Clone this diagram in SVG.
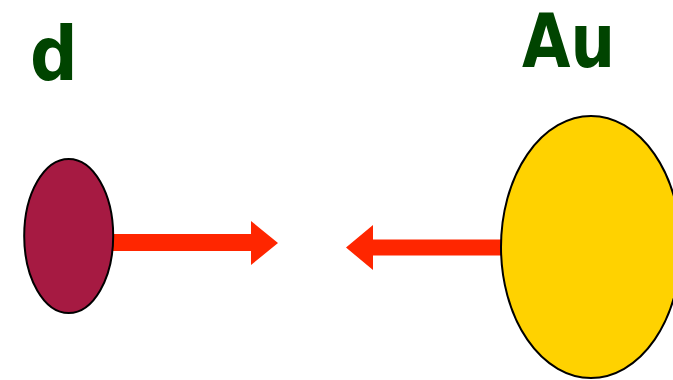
<svg xmlns="http://www.w3.org/2000/svg" width="673" height="380" viewBox="0 0 673 380">
<style>
.lbl{font-family:"DejaVu Sans Condensed","DejaVu Sans",sans-serif;font-weight:bold;fill:#004400}
.node{stroke:#000;stroke-width:2}
.arr{fill:#FF2600}
</style>
<rect width="673" height="380" fill="#fff"/>
<g id="connectors">
<polygon class="arr" points="113,234 251,234 251,221 278,243 251,265 251,251 113,251"/>
<polygon class="arr" points="503,239.5 373,239.5 373,225 346,247.5 373,270 373,255.5 503,255.5"/>
</g>
<g id="node-d">
<ellipse class="node" cx="68.7" cy="236" rx="44.5" ry="77" fill="#A61A42"/>
<text class="lbl" x="30" y="80" font-size="74">d</text>
</g>
<g id="node-Au">
<ellipse class="node" cx="591" cy="247" rx="90" ry="131" fill="#FFD200"/>
<text class="lbl" x="522" y="66.5" font-size="75" textLength="93" lengthAdjust="spacingAndGlyphs">Au</text>
</g>
</svg>
